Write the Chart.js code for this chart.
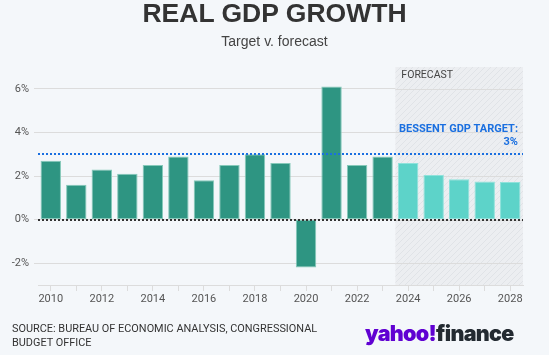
<!DOCTYPE html>
<html>
<head>
<meta charset="utf-8">
<script src="https://cdn.jsdelivr.net/npm/chart.js@4.4.1/dist/chart.umd.min.js"></script>
<style>
  html, body { margin: 0; padding: 0; background: #f4f7fa; }
  #wrap { position: relative; width: 549px; height: 355px; overflow: hidden; background: #f4f7fa; }
  #c { position: absolute; left: 0; top: 0; }
  .t { position: absolute; white-space: nowrap; }
  #title { left: 0; width: 549px; top: 0px; text-align: center; font: bold 26.5px "Liberation Sans", Arial, sans-serif; color: #333; line-height: 27px; }
  #sub { left: 0; width: 549px; top: 33px; text-align: center; font: 14px "Liberation Sans", Arial, sans-serif; color: #444; line-height: 16px; }
  #src { left: 12px; top: 322px; font: 10.9px "Liberation Sans Narrow", "Roboto", sans-serif; color: #333; line-height: 13.7px; }
  #logo { left: 365px; top: 318px; font: 900 21.5px "Inter", "Lato", sans-serif; line-height: 30px; letter-spacing: -0.7px; }
  #logo .y { color: #6001d2; }
  #logo .f { color: #232a31; }
</style>
</head>
<body>
<div id="wrap">
  <canvas id="c" width="549" height="355"></canvas>
  <div class="t" id="title">REAL GDP GROWTH</div>
  <div class="t" id="sub">Target v. forecast</div>
  <div class="t" id="src">SOURCE: BUREAU OF ECONOMIC ANALYSIS, CONGRESSIONAL<br>BUDGET OFFICE</div>
  <div class="t" id="logo"><span class="y">yahoo!</span><span class="f">finance</span></div>
</div>
<script>
const years = ['2010','2011','2012','2013','2014','2015','2016','2017','2018','2019','2020','2021','2022','2023','2024','2025','2026','2027','2028'];
const growth = [2.7, 1.6, 2.3, 2.1, 2.5, 2.9, 1.8, 2.5, 3.0, 2.6, -2.2, 6.1, 2.5, 2.9, 2.6, 2.05, 1.85, 1.75, 1.73];
const firstForecastYear = '2024';
const targetValue = 3;
const yTicks = [-2, 0, 2, 4, 6];
const yMin = -3, yMax = 7;

const histColor = '#2e9582', histBorder = '#86c9ba';
const fcColor = '#5dd3c9', fcBorder = '#8fe2db';
const fcIndex = years.indexOf(firstForecastYear);

function hatchPattern(ctx) {
  const p = document.createElement('canvas');
  p.width = 6; p.height = 6;
  const g = p.getContext('2d');
  g.fillStyle = '#eceef1';
  g.fillRect(0, 0, 6, 6);
  g.strokeStyle = '#e0e3e7';
  g.lineWidth = 1;
  g.beginPath();
  g.moveTo(0, 6); g.lineTo(6, 0);
  g.moveTo(-3, 3); g.lineTo(3, -3);
  g.moveTo(3, 9); g.lineTo(9, 3);
  g.stroke();
  return ctx.createPattern(p, 'repeat');
}

const overlay = {
  id: 'overlay',
  beforeDatasetsDraw(chart) {
    const { ctx, chartArea: a, scales: { x, y } } = chart;
    const left = (x.getPixelForValue(fcIndex - 1) + x.getPixelForValue(fcIndex)) / 2;
    ctx.save();
    ctx.fillStyle = hatchPattern(ctx);
    ctx.fillRect(left, a.top, a.right - left, a.bottom - a.top);
    ctx.strokeStyle = '#dcdcdc';
    ctx.lineWidth = 1;
    yTicks.forEach(v => {
      const py = Math.round(y.getPixelForValue(v)) + 0.5;
      ctx.beginPath(); ctx.moveTo(left, py); ctx.lineTo(a.right, py); ctx.stroke();
    });
    ctx.fillStyle = '#444';
    ctx.font = '10.5px "Liberation Sans Narrow", Roboto, sans-serif';
    ctx.textBaseline = 'middle';
    ctx.textAlign = 'left';
    ctx.fillText('FORECAST', left + 6, a.top + 8);
    ctx.restore();
  },
  afterDatasetsDraw(chart) {
    const { ctx, chartArea: a, scales: { y } } = chart;
    ctx.save();
    const y0 = Math.round(y.getPixelForValue(0));
    ctx.strokeStyle = '#333';
    ctx.lineWidth = 2;
    ctx.setLineDash([2, 2]);
    ctx.beginPath(); ctx.moveTo(a.left, y0); ctx.lineTo(a.right, y0); ctx.stroke();
    const yt = Math.round(y.getPixelForValue(targetValue));
    ctx.strokeStyle = '#1a6fe0';
    ctx.beginPath(); ctx.moveTo(a.left, yt); ctx.lineTo(a.right, yt); ctx.stroke();
    ctx.setLineDash([]);
    ctx.fillStyle = '#1a6fe0';
    ctx.font = 'bold 11px "Liberation Sans Narrow", Roboto, sans-serif';
    ctx.textAlign = 'right';
    ctx.textBaseline = 'middle';
    ctx.fillText('BESSENT GDP TARGET:', a.right - 5, yt - 25);
    ctx.fillText(targetValue + '%', a.right - 5, yt - 12);
    ctx.restore();
  }
};

new Chart(document.getElementById('c'), {
  type: 'bar',
  data: {
    labels: years,
    datasets: [{
      data: growth,
      backgroundColor: years.map((_, i) => i >= fcIndex ? fcColor : histColor),
      borderColor: years.map((_, i) => i >= fcIndex ? fcBorder : histBorder),
      borderWidth: 1,
      borderSkipped: false,
      barPercentage: 0.8,
      categoryPercentage: 1.0
    }]
  },
  options: {
    responsive: false,
    animation: false,
    devicePixelRatio: 1,
    layout: { padding: { left: 0, right: 26, top: 67, bottom: 0 } },
    plugins: { legend: { display: false }, tooltip: { enabled: false } },
    scales: {
      x: {
        offset: true,
        afterFit(s) { s.height = 70; },
        grid: { display: true, drawOnChartArea: false, offset: false, tickLength: 6, color: '#dcdcdc' },
        border: { display: true, color: '#dcdcdc' },
        ticks: {
          autoSkip: false, maxRotation: 0, padding: 2,
          color: '#555', font: { family: 'Roboto, sans-serif', size: 11 },
          callback(v, i) { return i % 2 === 0 ? years[i] : ''; }
        }
      },
      y: {
        min: yMin, max: yMax,
        afterFit(s) { s.width = 38; },
        afterBuildTicks(s) { s.ticks = yTicks.map(v => ({ value: v })); },
        grid: { color: '#dcdcdc', tickLength: 4 },
        border: { display: false },
        ticks: {
          padding: 5, color: '#555', font: { family: 'Roboto, sans-serif', size: 11 },
          callback(v) { return v + '%'; }
        }
      }
    }
  },
  plugins: [overlay]
});
</script>
</body>
</html>
